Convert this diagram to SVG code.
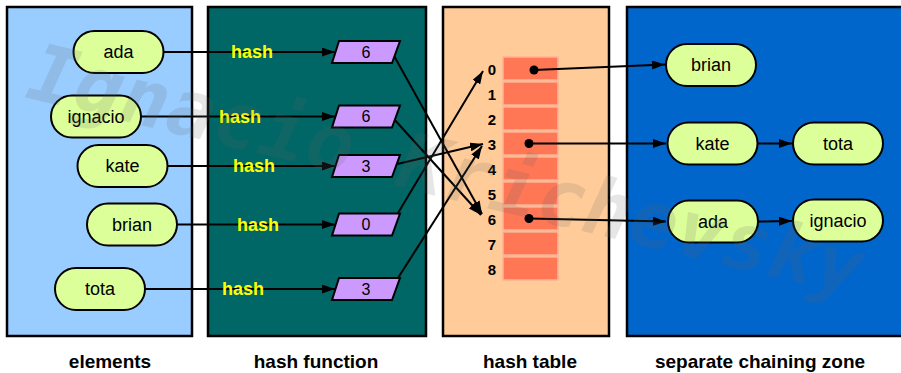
<svg xmlns="http://www.w3.org/2000/svg" width="901" height="373" viewBox="0 0 901 373">
  <style>
    .panel { stroke: #000; stroke-width: 2.5; }
    .node rect { fill: #ddff99; stroke: #000; stroke-width: 2; }
    .node text, .para text { font-family: "Liberation Sans", Arial, sans-serif; text-anchor: middle; dominant-baseline: central; fill: #000; }
    .node text { font-size: 18px; }
    .para polygon { fill: #cc99ff; stroke: #000; stroke-width: 2; stroke-linejoin: miter; }
    .para text { font-size: 16px; }
    .edge { stroke: #000; stroke-width: 2; fill: none; marker-end: url(#arrow); }
    .hash { font-family: "Liberation Sans", Arial, sans-serif; font-weight: bold; font-size: 18px; fill: #ffff00; text-anchor: middle; dominant-baseline: central; }
    .cell { fill: #ff7755; stroke: #ffb395; stroke-width: 1.5; }
    .idx { font-family: "Liberation Sans", Arial, sans-serif; font-weight: bold; font-size: 15px; text-anchor: middle; dominant-baseline: central; fill: #000; }
    .caption { font-family: "Liberation Sans", Arial, sans-serif; font-weight: bold; font-size: 19px; text-anchor: middle; fill: #000; }
    .mark { font-family: "DejaVu Sans Mono", monospace; font-weight: bold; font-style: italic; font-size: 79px; fill: #666; fill-opacity: 0.16; }
  </style>
  <defs>
    <marker id="arrow" markerUnits="userSpaceOnUse" markerWidth="13" markerHeight="9" refX="13" refY="4.5" orient="auto">
      <path d="M0,0 L13,4.5 L0,9 z" fill="#000"/>
    </marker>
  </defs>

  <rect width="901" height="373" fill="#fff"/>

  <!-- panels -->
  <g id="panels">
    <rect class="panel" x="7" y="7" width="185" height="329" fill="#99ccff"/>
    <rect class="panel" x="208" y="7" width="218" height="329" fill="#006666"/>
    <rect class="panel" x="443" y="7" width="166" height="329" fill="#ffcc99"/>
    <rect class="panel" x="627" y="7" width="290" height="329" fill="#0066cc"/>
  </g>

  <!-- hash table buckets -->
  <g id="table">
    <rect class="cell" x="503" y="57" width="55" height="23"/>
    <rect class="cell" x="503" y="82" width="55" height="23"/>
    <rect class="cell" x="503" y="107" width="55" height="23"/>
    <rect class="cell" x="503" y="132" width="55" height="23"/>
    <rect class="cell" x="503" y="157" width="55" height="23"/>
    <rect class="cell" x="503" y="182" width="55" height="23"/>
    <rect class="cell" x="503" y="207" width="55" height="23"/>
    <rect class="cell" x="503" y="232" width="55" height="23"/>
    <rect class="cell" x="503" y="257" width="55" height="23"/>
    <text class="idx" x="492" y="69">0</text>
    <text class="idx" x="492" y="94">1</text>
    <text class="idx" x="492" y="119">2</text>
    <text class="idx" x="492" y="144">3</text>
    <text class="idx" x="492" y="169">4</text>
    <text class="idx" x="492" y="194">5</text>
    <text class="idx" x="492" y="219">6</text>
    <text class="idx" x="492" y="244">7</text>
    <text class="idx" x="492" y="269">8</text>
    <circle cx="534" cy="70" r="4.5" fill="#000"/>
    <circle cx="529" cy="143.5" r="4.5" fill="#000"/>
    <circle cx="529" cy="218.5" r="4.5" fill="#000"/>
  </g>

  <!-- connectors -->
  <g id="connectors">
    <line class="edge" x1="163.5" y1="52" x2="335" y2="52"/>
    <line class="edge" x1="141" y1="116.5" x2="335" y2="116.5"/>
    <line class="edge" x1="167.5" y1="166" x2="335" y2="166"/>
    <line class="edge" x1="177" y1="224.5" x2="335" y2="224.5"/>
    <line class="edge" x1="145" y1="289" x2="335" y2="289"/>

    <line class="edge" x1="393" y1="54" x2="482" y2="214"/>
    <line class="edge" x1="393" y1="118" x2="481" y2="215"/>
    <line class="edge" x1="393" y1="165" x2="483" y2="144"/>
    <line class="edge" x1="398" y1="213" x2="483" y2="71"/>
    <line class="edge" x1="398" y1="278" x2="482" y2="146"/>

    <line class="edge" x1="534" y1="70" x2="665" y2="64.5"/>
    <line class="edge" x1="529" y1="143.5" x2="666" y2="143.5"/>
    <line class="edge" x1="529" y1="218.5" x2="666" y2="221.5"/>
    <line class="edge" x1="758" y1="143.5" x2="792" y2="143.5"/>
    <line class="edge" x1="758" y1="221.5" x2="792" y2="221"/>
  </g>

  <!-- hash labels along the element connectors -->
  <g id="hash-labels">
    <text class="hash" x="252" y="52">hash</text>
    <text class="hash" x="240" y="116.5">hash</text>
    <text class="hash" x="254" y="166">hash</text>
    <text class="hash" x="258" y="224.5">hash</text>
    <text class="hash" x="243" y="289">hash</text>
  </g>

  <!-- elements -->
  <g id="el-ada" class="node"><rect x="73.5" y="31" width="90" height="42" rx="21"/><text x="118.5" y="52">ada</text></g>
  <g id="el-ignacio" class="node"><rect x="51" y="95.5" width="90" height="42" rx="21"/><text x="96" y="116.5">ignacio</text></g>
  <g id="el-kate" class="node"><rect x="77.5" y="145" width="90" height="42" rx="21"/><text x="122.5" y="166">kate</text></g>
  <g id="el-brian" class="node"><rect x="87" y="203.5" width="90" height="42" rx="21"/><text x="132" y="224.5">brian</text></g>
  <g id="el-tota" class="node"><rect x="55" y="268" width="90" height="42" rx="21"/><text x="100" y="289">tota</text></g>

  <!-- hash results -->
  <g id="h-ada" class="para"><polygon points="339,41 400,41 392,63 332,63"/><text x="366" y="52">6</text></g>
  <g id="h-ignacio" class="para"><polygon points="339,105.5 400,105.5 392,127.5 332,127.5"/><text x="366" y="116.5">6</text></g>
  <g id="h-kate" class="para"><polygon points="339,155 400,155 392,177 332,177"/><text x="366" y="166">3</text></g>
  <g id="h-brian" class="para"><polygon points="339,213.5 400,213.5 392,235.5 332,235.5"/><text x="366" y="224.5">0</text></g>
  <g id="h-tota" class="para"><polygon points="339,278 400,278 392,300 332,300"/><text x="366" y="289">3</text></g>

  <!-- chains -->
  <g id="ch-brian" class="node"><rect x="666" y="44" width="90" height="42" rx="21"/><text x="711" y="65">brian</text></g>
  <g id="ch-kate" class="node"><rect x="667.5" y="122.5" width="90" height="42" rx="21"/><text x="712.5" y="143.5">kate</text></g>
  <g id="ch-tota" class="node"><rect x="793" y="122.5" width="90" height="42" rx="21"/><text x="838" y="143.5">tota</text></g>
  <g id="ch-ada" class="node"><rect x="668" y="200.5" width="90" height="42" rx="21"/><text x="713" y="221.5">ada</text></g>
  <g id="ch-ignacio" class="node"><rect x="793" y="199.5" width="90" height="42" rx="21"/><text x="838" y="220.5">ignacio</text></g>

  <!-- captions -->
  <g id="captions">
    <text class="caption" x="110" y="368">elements</text>
    <text class="caption" x="316" y="368">hash function</text>
    <text class="caption" x="530" y="368">hash table</text>
    <text class="caption" x="760" y="368">separate chaining zone</text>
  </g>

  <!-- author mark -->
  <text class="mark" transform="translate(24,97) rotate(13.5)">Ignacio Krichevsky</text>
</svg>
